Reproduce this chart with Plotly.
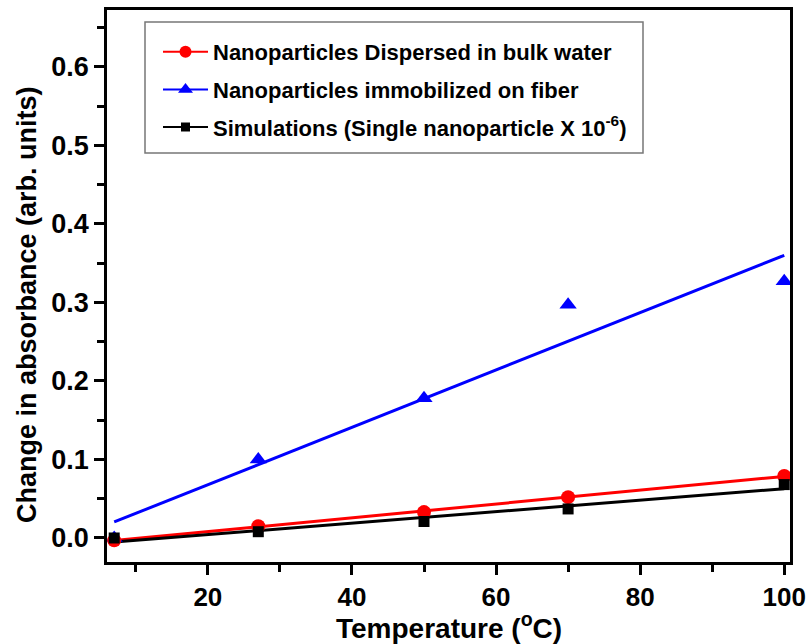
import numpy as np
import plotly.graph_objects as go

temperature = [7, 27, 50, 70, 100]
bulk_water = [-0.003, 0.015, 0.033, 0.052, 0.079]
on_fiber = [0.0, 0.100, 0.178, 0.297, 0.327]
simulation = [0.0, 0.008, 0.021, 0.037, 0.068]

names = ["Nanoparticles Dispersed in bulk water",
         "Nanoparticles immobilized on fiber",
         "Simulations (Single nanoparticle X 10<sup>-6</sup>)"]
colors = ["#ff0000", "#0000ff", "#000000"]
symbols = ["circle", "triangle-up", "square"]
msizes = [14, 15, 11]

FONT = "Liberation Sans, Arial, sans-serif"
W, H = 807, 644
L, R, T, B = 107, 17, 10, 82
PW, PH = W - L - R, H - T - B


def px_to_paper(xp, yp):
    return (xp - L) / PW, (H - B - yp) / PH


fig = go.Figure()

x = np.array(temperature, dtype=float)
xfit = np.array([x.min(), x.max()])
series = [bulk_water, on_fiber, simulation]
draw_order = [1, 0, 2]

# fit lines
for i in draw_order:
    p = np.polyfit(x, np.array(series[i]), 1)
    fig.add_trace(go.Scatter(x=xfit, y=np.polyval(p, xfit), mode="lines",
                             line=dict(color=colors[i], width=3), showlegend=False,
                             hoverinfo="skip"))
# markers
for i in draw_order:
    fig.add_trace(go.Scatter(x=temperature, y=series[i], mode="markers",
                             marker=dict(color=colors[i], symbol=symbols[i], size=msizes[i]),
                             showlegend=False))
# legend entries
for i in range(3):
    fig.add_trace(go.Scatter(x=[None], y=[None], mode="lines+markers", name=names[i],
                             legendgroup=f"g{i}",
                             line=dict(color=colors[i], width=2),
                             marker=dict(color=colors[i], symbol=symbols[i], size=msizes[i] - 2)))

axis_common = dict(showline=True, linecolor="black", linewidth=2.5, mirror=True,
                   ticks="outside", ticklen=10, tickwidth=2.5, tickcolor="black",
                   showgrid=False, zeroline=False, automargin=False)

fig.update_xaxes(range=[6.0, 100.8], tickvals=[20, 40, 60, 80, 100],
                 minor=dict(tickvals=[10, 30, 50, 70, 90], ticklen=7, tickwidth=2.5,
                            tickcolor="black", ticks="outside"),
                 tickfont=dict(family=FONT, size=26, color="black", weight="bold"),
                 **axis_common)
fig.update_yaxes(range=[-0.0306, 0.6726], tickvals=[0.0, 0.1, 0.2, 0.3, 0.4, 0.5, 0.6],
                 ticktext=["0.0", "0.1", "0.2", "0.3", "0.4", "0.5", "0.6"],
                 minor=dict(tickvals=[0.05, 0.15, 0.25, 0.35, 0.45, 0.55, 0.65], ticklen=7,
                            tickwidth=2.5, tickcolor="black", ticks="outside"),
                 tickfont=dict(family=FONT, size=27, color="black", weight="bold"),
                 **axis_common)

ax, ay = px_to_paper(27, 305)
fig.add_annotation(text="Change in absorbance (arb. units)", textangle=-90,
                   xref="paper", yref="paper", x=ax, y=ay,
                   xanchor="center", yanchor="middle", showarrow=False,
                   font=dict(family=FONT, size=27, color="black", weight="bold"))
tx, ty = px_to_paper(449, 626)
fig.add_annotation(text="Temperature (<sup>o</sup>C)",
                   xref="paper", yref="paper", x=tx, y=ty,
                   xanchor="center", yanchor="middle", showarrow=False,
                   font=dict(family=FONT, size=28, color="black", weight="bold"))

# legend frame
x0, y0 = px_to_paper(145, 153)
x1, y1 = px_to_paper(643, 22)
fig.add_shape(type="rect", xref="paper", yref="paper", x0=x0, y0=y0, x1=x1, y1=y1,
              line=dict(color="#777777", width=1.5), fillcolor="rgba(0,0,0,0)", layer="above")

lx, ly = px_to_paper(158, 31)
fig.update_layout(
    width=W, height=H,
    margin=dict(l=L, r=R, t=T, b=B),
    paper_bgcolor="white", plot_bgcolor="white",
    legend=dict(x=lx, y=ly, xanchor="left", yanchor="top",
                borderwidth=0, bgcolor="rgba(0,0,0,0)",
                font=dict(family=FONT, size=22, color="black", weight="bold"),
                traceorder="grouped", tracegroupgap=6, itemwidth=45),
    font=dict(family=FONT),
)

fig.write_html("out.html")
